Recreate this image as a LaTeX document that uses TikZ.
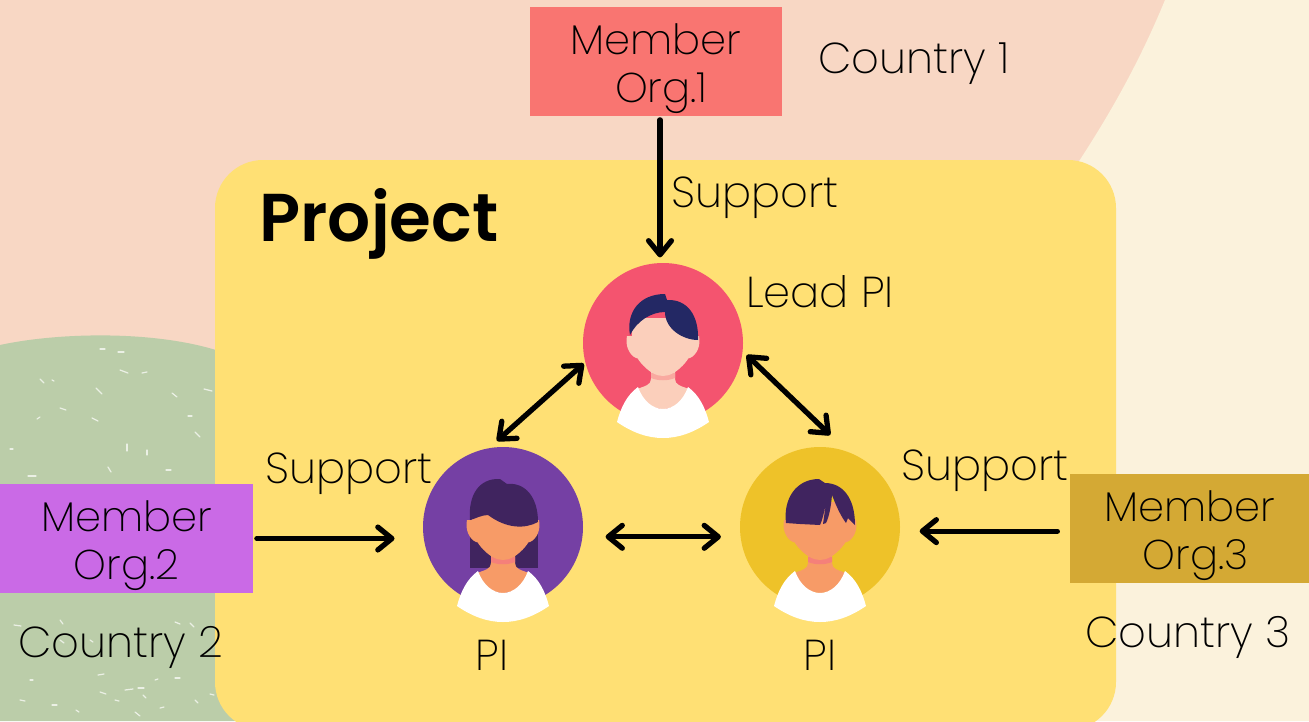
\documentclass[tikz,border=0pt]{standalone}
\usepackage{fontspec}
\setmainfont{Poppins}[UprightFont=* ExtraLight,BoldFont=* SemiBold]
\usetikzlibrary{arrows.meta}

\definecolor{peachbg}{HTML}{F8D7C4}
\definecolor{creambg}{HTML}{FBF2DC}
\definecolor{greenbg}{HTML}{BBCDA9}
\definecolor{projectbg}{HTML}{FFE074}
\definecolor{orgred}{HTML}{F97571}
\definecolor{orgpurple}{HTML}{CA6AE6}
\definecolor{orggold}{HTML}{D4A934}
\definecolor{leadpink}{HTML}{F4546F}
\definecolor{pipurple}{HTML}{7540A4}
\definecolor{piyellow}{HTML}{EEC229}
\definecolor{hairnavy}{HTML}{232864}
\definecolor{hairplum}{HTML}{40245F}
\definecolor{skinpale}{HTML}{FBCFBB}
\definecolor{skintan}{HTML}{F79B67}
\definecolor{neckpale}{HTML}{F9A9A0}
\definecolor{necktan}{HTML}{F5807A}

% pushes the two lines of an org box down
\newcommand{\orgstrut}{\rule{0pt}{26pt}}

% face, ears, neck and shirt; #1 skin, #2 neck shadow
\newcommand{\personbody}[2]{
   \fill[#1] (-36,-7) .. controls (-38,2) and (-34,12) .. (-27,15) -- (27,15)
      .. controls (34,12) and (38,2) .. (36,-7) -- cycle;
   \fill[#1] (-26,46) .. controls (-18,43) and (-12,42) .. (-12,36) -- (-12,25) -- (12,25) -- (12,36)
      .. controls (12,42) and (18,43) .. (26,46) .. controls (20,60) and (10,66) .. (0,66)
      .. controls (-10,66) and (-20,60) .. (-26,46) -- cycle;
   \fill[#2] (-12,30) -- (12,30) -- (12,35) .. controls (5,38) and (-5,38) .. (-12,35) -- cycle;
   \fill[#1] (-31,-25) -- (31,-25) -- (31,4) .. controls (28,15) and (14,33) .. (0,33)
      .. controls (-14,33) and (-28,15) .. (-31,4) -- cycle;
   \fill[white] (-46,79) .. controls (-42,64) and (-36,52) .. (-25,44)
      .. controls (-20,58) and (-10,66) .. (0,66) .. controls (10,66) and (20,58) .. (25,44)
      .. controls (36,52) and (42,64) .. (46,79) .. controls (30,90) and (15,95) .. (0,95)
      .. controls (-15,95) and (-30,90) .. (-46,79) -- cycle;
}

\begin{document}
\begin{tikzpicture}[x=0.02cm,y=-0.02cm,
    orgbox/.style ={rectangle, inner sep=0pt, minimum width=#1*0.02cm, minimum height=109*0.02cm, align=center,
       font=\fontsize{23.7}{27.5}\selectfont},
    portrait/.style ={circle, inner sep=0pt, minimum size=160*0.02cm},
    caption/.style ={font=\fontsize{24.6}{28}\selectfont, inner sep=0pt},
    link/.style ={line width=3pt, line cap=round, black},
    oneway/.style ={link, -{Straight Barb[round,length=8pt,width=13pt]}},
    twoway/.style ={link, {Straight Barb[round,length=8pt,width=13pt]}-{Straight Barb[round,length=8pt,width=13pt]}},
    speck/.style ={line width=0.7pt, line cap=round, white!70!greenbg}]

   \useasboundingbox (0,0) rectangle (1309,721);
   \clip (0,0) rectangle (1309,721);

   % background
   \fill[peachbg] (0,0) rectangle (1309,721);
   \fill[creambg] (1165,0) .. controls (1130,85) and (1090,145) .. (1060,190) -- (1000,721) -- (1309,721) -- (1309,0) -- cycle;
   \fill[greenbg] (0,345) .. controls (60,332) and (160,330) .. (225,353) -- (260,721) -- (0,721) -- cycle;
   \foreach \x/\y/\dx/\dy in {100/349/5/0, 118/352/6/0, 120/370/8/3, 142/373/5/-1, 40/379/4/4, 52/380/2/1,
      96/388/6/6, 204/389/8/2, 172/393/5/4, 60/408/6/2, 188/416/4/0, 37/419/3/-2, 92/418/6/3, 195/432/5/5,
      147/450/0/5, 127/444/0/7, 108/467/3/5, 28/476/8/0, 166/470/5/0, 10/449/3/0, 60/620/3/4, 14/625/7/1,
      175/622/5/2, 190/623/4/4, 98/675/6/-1, 125/690/8/-1, 138/688/6/0, 143/695/3/3, 100/692/6/2, 115/700/4/1,
      155/680/3/-1, 175/678/5/0, 60/640/4/3, 52/705/5/0, 76/710/3/2, 135/712/5/4, 195/700/3/3, 210/694/4/1,
      30/680/3/0, 160/708/4/-1, 20/700/5/1, 90/640/3/2}
      \draw[speck] (\x,\y) -- ++(\dx,\dy);

   % project
   \fill[projectbg, rounded corners=48*0.02cm] (215,160) rectangle (1116,730);
   \node[inner sep=0pt, font=\fontsize{38.5}{44}\selectfont\bfseries] (project) at (379,224) {Project};

   % member organisations
   \node[orgbox=252, fill=orgred] (orgA) at (656,61.5) {\orgstrut Member\\ \hspace{6pt}Org.1};
   \node[orgbox=253, fill=orgpurple] (orgB) at (126.5,538.5) {\orgstrut Member\hspace{5.7pt}\\ Org.2};
   \node[orgbox=239, fill=orggold] (orgC) at (1189.5,528.5) {\orgstrut Member\\ \hspace{7pt}Org.3};

   % people
   \node[portrait, fill=leadpink] (leadpi) at (663,343) {};
   \node[portrait, fill=pipurple] (piB) at (503,527) {};
   \node[portrait, fill=piyellow] (piC) at (820,527) {};

   \begin{scope}[shift={(leadpi)}]
      \personbody{skinpale}{neckpale}
      \fill[hairnavy] (-33,-8) .. controls (-37,-30) and (-24,-49) .. (2,-49) -- (4,-43)
         .. controls (24,-44) and (36,-28) .. (35,-3) .. controls (20,-3) and (2,-14) .. (2,-31)
         .. controls (-12,-31) and (-26,-22) .. (-33,-8) -- cycle;
   \end{scope}
   \begin{scope}[shift={(piB)}]
      \fill[hairplum] (-33,-7) rectangle (35,41);
      \personbody{skintan}{necktan}
      \fill[hairplum] (-33,-7) .. controls (-35,-32) and (-24,-49) .. (-3,-48) -- (4,-43)
         .. controls (22,-45) and (35,-30) .. (35,-5) .. controls (22,2) and (4,2) .. (-15,-12)
         .. controls (-22,-12) and (-28,-8) .. (-33,-7) -- cycle;
   \end{scope}
   \begin{scope}[shift={(piC)}]
      \personbody{skintan}{necktan}
      \fill[hairplum] (-34,-4) .. controls (-37,-28) and (-24,-48) .. (-1,-48) -- (5,-44)
         .. controls (22,-44) and (35,-30) .. (35,-2) -- (28,-9) -- (26,-4) .. controls (20,-12) and (15,-24) .. (12,-32)
         .. controls (11,-20) and (9,-10) .. (6,-4) -- (3,-3) -- (6,-24) .. controls (4,-14) and (2,-6) .. (0,-2)
         -- (-20,-3) -- cycle;
   \end{scope}

   % labels
   \node[caption] (countryA) at (914,64) {Country 1};
   \node[caption] (countryB) at (121,647) {Country 2};
   \node[caption] (countryC) at (1188,637) {Country 3};
   \node[caption] (supportA) at (755,198) {Support};
   \node[caption] (supportB) at (349,474) {Support};
   \node[caption] (supportC) at (985,471) {Support};
   \node[caption] (leadlabel) at (820,292) {Lead PI};
   \node[caption] (pilabelB) at (492,655) {PI};
   \node[caption] (pilabelC) at (820,655) {PI};

   % links
   \draw[oneway, shorten <=2pt, shorten >=3pt] (orgA.south -| 660,0) to (leadpi.north -| 660,0);
   \draw[oneway, shorten <=2pt, shorten >=16pt] (orgB.east) to (orgB.east -| piB.west);
   \draw[oneway, shorten <=7pt, shorten >=11pt] ([yshift=-1.5pt]orgC.west) to ([yshift=-1.5pt]orgC.west -| piC.east);
   \draw[twoway, shorten <=1pt, shorten >=6pt] (leadpi.194) to (piB.100);
   \draw[twoway, shorten <=3pt, shorten >=13.6pt] (leadpi.-6) to (piC.70);
   \draw[twoway, shorten <=13pt, shorten >=11pt] (piB.-7) to (piC.187);

 \end{tikzpicture}
\end{document}
